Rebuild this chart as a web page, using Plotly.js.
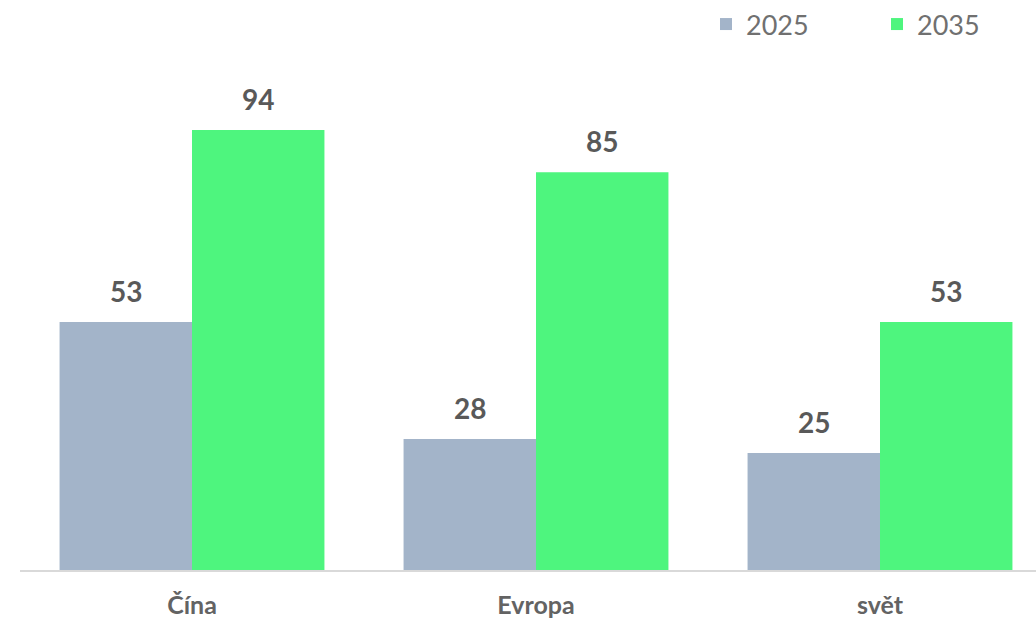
<!DOCTYPE html>
<html><head><meta charset="utf-8">
<script src="https://cdn.plot.ly/plotly-3.0.1.min.js"></script>
<style>html,body{margin:0;padding:0;background:#fff}#chart{width:1036px;height:620px}</style>
</head><body><div id="chart"></div>
<script>
const categories = ["Čína", "Evropa", "svět"];
const seriesNames = ["2025", "2035"];
const values2025 = [53, 28, 25];
const values2035 = [94, 85, 53];
const colors = ["#a3b4c9", "#4ef57e"];

const allValues = [values2025, values2035];
const idx = categories.map((_, i) => i);
const traces = allValues.map((vals, s) => ({
  type: 'bar', name: seriesNames[s], x: idx, y: vals,
  legend: s === 0 ? 'legend' : 'legend2',
  marker: {color: colors[s], line: {width: 0}},
  hoverinfo: 'skip'
}));

const bargap = 0.23;
const barW = (1 - bargap) / 2;
const annotations = [];
allValues.forEach((vals, s) => {
  vals.forEach((v, i) => {
    annotations.push({
      x: i + (s === 0 ? -barW / 2 : barW / 2), y: v, xref: 'x', yref: 'y',
      text: '<b>' + v + '</b>', showarrow: false, yanchor: 'bottom', yshift: 12,
      font: {family: 'Lato, sans-serif', size: 28, color: '#595959'}
    });
  });
});

const legendFont = {family: 'Lato, sans-serif', size: 27, color: '#707070'};
const layout = {
  width: 1036, height: 620,
  margin: {l: 20, r: 0, t: 0, b: 50},
  paper_bgcolor: '#fff', plot_bgcolor: '#fff',
  barmode: 'group', bargap: bargap, bargroupgap: 0,
  showlegend: true,
  legend: {orientation: 'h', x: (706 - 20) / 1016, xanchor: 'left', y: 1, yanchor: 'top',
    font: legendFont, bgcolor: 'rgba(0,0,0,0)'},
  legend2: {orientation: 'h', x: (877 - 20) / 1016, xanchor: 'left', y: 1, yanchor: 'top',
    font: legendFont, bgcolor: 'rgba(0,0,0,0)'},
  xaxis: {
    range: [-0.5, 2.5 - 16 / 344], tickvals: idx, ticktext: categories.map(c => '<b>' + c + '</b>'),
    showgrid: false, zeroline: false, showline: true, linecolor: '#d9d9d9', linewidth: 2,
    ticks: '', ticklabelstandoff: 12,
    tickfont: {family: 'Lato, sans-serif', size: 25, color: '#636363'}, fixedrange: true
  },
  yaxis: {range: [0, 570 / 4.68], visible: false, fixedrange: true},
  annotations: annotations
};
Plotly.newPlot('chart', traces, layout, {displayModeBar: false, staticPlot: true});
</script></body></html>
